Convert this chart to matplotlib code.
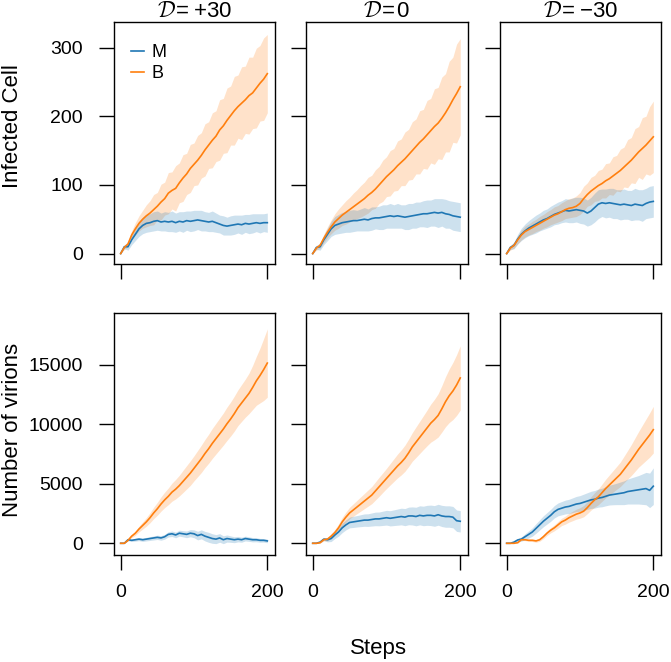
import numpy as np
import matplotlib
matplotlib.use("Agg")
import matplotlib.pyplot as plt

plt.rcParams['font.family'] = ['Liberation Sans', 'DejaVu Sans']
plt.rcParams['mathtext.fontset'] = 'custom'
plt.rcParams['mathtext.rm'] = 'DejaVu Sans'
plt.rcParams['mathtext.cal'] = 'cmsy10'

steps = list(range(0, 201, 5))

titles = ['$\\mathcal{D}$\u200a=\u2009+30', '$\\mathcal{D}$\u200a=\u200a0', '$\\mathcal{D}$\u200a=\u2009\u221230']
row_labels = ['Infected Cell', 'Number of virions']
series_names = ['M', 'B']
x_ticks = [0, 200]
y_ticks_top = [0, 100, 200, 300]
y_ticks_bottom = [0, 5000, 10000, 15000]

inf_p30_M = [0, 10, 10, 20, 28, 36, 41, 44, 45, 47, 48, 46, 47, 46, 47, 45, 47, 46, 48, 47, 48,
             49, 48, 47, 46, 47, 45, 43, 41, 40, 41, 42, 43, 42, 44, 43, 44, 45, 44, 45, 45]
inf_p30_M_sd = [0, 3, 5, 7, 9, 11, 12, 13, 13, 14, 14, 13, 14, 14, 15, 14, 14, 15, 14, 15, 15,
                14, 15, 14, 14, 15, 14, 13, 14, 13, 14, 14, 13, 14, 13, 14, 14, 13, 14, 13, 14]
inf_p30_B = [0, 9, 14, 27, 36, 44, 50, 55, 59, 64, 69, 75, 80, 88, 92, 95, 103, 110, 116, 124, 130,
             136, 143, 151, 158, 165, 171, 180, 186, 194, 201, 208, 214, 219, 224, 230, 234, 241, 248, 254, 262]
inf_p30_B_sd = [0, 3, 4, 6, 9, 11, 13, 16, 18, 22, 20, 26, 24, 30, 27, 33, 29, 34, 30, 35, 31,
                36, 33, 38, 34, 40, 37, 44, 40, 47, 43, 50, 46, 53, 49, 56, 52, 58, 55, 60, 57]

inf_0_M = [0, 9, 10, 20, 28, 36, 41, 43, 45, 46, 47, 48, 48, 49, 50, 49, 51, 52, 52, 53, 54,
           55, 54, 55, 54, 53, 54, 55, 56, 57, 58, 58, 59, 60, 59, 60, 58, 57, 55, 54, 53]
inf_0_M_sd = [0, 3, 5, 7, 9, 11, 13, 14, 15, 15, 16, 16, 15, 16, 17, 16, 17, 16, 17, 18, 17,
              18, 17, 18, 17, 18, 19, 18, 19, 18, 19, 20, 19, 20, 21, 20, 21, 20, 21, 21, 21]
inf_0_B = [0, 8, 12, 22, 31, 39, 46, 51, 56, 60, 64, 68, 72, 76, 80, 85, 89, 94, 100, 106, 112,
           117, 122, 128, 133, 138, 144, 150, 156, 162, 167, 173, 179, 185, 190, 197, 205, 214, 224, 233, 243]
inf_0_B_sd = [0, 3, 4, 6, 8, 10, 12, 14, 15, 17, 18, 20, 21, 23, 24, 26, 25, 28, 27, 30, 29,
              33, 31, 36, 34, 39, 37, 42, 40, 46, 43, 50, 47, 55, 52, 60, 57, 66, 62, 72, 70]

inf_m30_M = [0, 9, 12, 21, 28, 33, 37, 40, 43, 46, 49, 51, 54, 57, 59, 61, 63, 62, 63, 64, 63,
             62, 59, 62, 67, 72, 74, 73, 74, 73, 72, 71, 72, 71, 70, 72, 71, 70, 73, 75, 76]
inf_m30_M_sd = [0, 3, 5, 7, 9, 10, 11, 12, 13, 13, 14, 14, 15, 15, 16, 16, 17, 17, 18, 18, 19,
                19, 19, 20, 21, 21, 20, 21, 21, 22, 21, 22, 22, 21, 22, 23, 22, 23, 22, 23, 23]
inf_m30_B = [0, 8, 12, 20, 27, 32, 35, 38, 41, 44, 47, 50, 53, 56, 58, 61, 64, 66, 67, 69, 73,
             80, 86, 91, 95, 99, 102, 106, 109, 113, 117, 121, 126, 131, 136, 142, 148, 153, 158, 164, 170]
inf_m30_B_sd = [0, 3, 4, 6, 7, 8, 8, 9, 9, 10, 10, 11, 11, 12, 12, 13, 13, 14, 14, 15, 16,
                18, 17, 20, 19, 22, 21, 25, 23, 28, 26, 31, 29, 35, 33, 40, 37, 45, 42, 50, 52]

vir_p30_M = [0, 0, 300, 250, 300, 350, 300, 350, 400, 450, 500, 450, 550, 750, 800, 700, 850, 800, 750, 850, 800,
             650, 750, 600, 500, 400, 350, 450, 300, 400, 350, 300, 350, 300, 400, 350, 300, 300, 250, 250, 200]
vir_p30_M_sd = [0, 0, 80, 100, 120, 130, 140, 150, 160, 170, 180, 190, 200, 220, 230, 240, 250, 260, 280, 300, 330,
                360, 380, 400, 420, 400, 380, 360, 330, 300, 270, 250, 230, 210, 200, 190, 180, 170, 160, 150, 150]
vir_p30_B = [0, 0, 250, 600, 850, 1200, 1500, 1800, 2150, 2550, 2900, 3300, 3650, 3950, 4300, 4550, 4850, 5200, 5550, 5900, 6300,
             6700, 7100, 7550, 7950, 8400, 8800, 9200, 9600, 10050, 10450, 10900, 11400, 11800, 12200, 12600, 13100, 13650, 14100, 14600, 15150]
vir_p30_B_sd = [0, 0, 60, 120, 180, 240, 300, 360, 420, 480, 540, 600, 650, 700, 760, 820, 870, 930, 980, 1030, 1050,
                1100, 1150, 1180, 1220, 1260, 1290, 1320, 1350, 1400, 1430, 1470, 1500, 1550, 1600, 1700, 1850, 2050, 2300, 2600, 2870]

vir_0_M = [0, 0, 100, 350, 300, 400, 700, 950, 1300, 1550, 1750, 1800, 1850, 1900, 1950, 1950, 2000, 2050, 2050, 2100, 2150,
           2100, 2150, 2200, 2250, 2200, 2300, 2300, 2250, 2350, 2300, 2350, 2350, 2300, 2400, 2300, 2250, 2250, 2200, 1900, 1850]
vir_0_M_sd = [0, 0, 60, 120, 180, 250, 300, 350, 400, 420, 450, 470, 480, 500, 520, 530, 550, 570, 580, 600, 620,
              640, 660, 680, 700, 720, 740, 760, 780, 800, 820, 840, 860, 870, 880, 890, 900, 900, 900, 900, 900]
vir_0_B = [0, 0, 50, 300, 350, 600, 900, 1300, 1800, 2200, 2550, 2800, 3050, 3300, 3550, 3800, 4050, 4400, 4750, 5100, 5450,
           5800, 6150, 6500, 6800, 7150, 7600, 8100, 8500, 8900, 9300, 9700, 10100, 10400, 10750, 11300, 11900, 12400, 12800, 13300, 13900]
vir_0_B_sd = [0, 0, 40, 100, 150, 200, 260, 320, 380, 430, 480, 520, 560, 600, 640, 680, 720, 760, 800, 820, 850,
              900, 950, 1000, 1050, 1100, 1150, 1200, 1280, 1350, 1420, 1500, 1600, 1700, 1820, 1950, 2100, 2250, 2400, 2550, 2700]

vir_m30_M = [0, 0, 100, 280, 350, 550, 750, 950, 1250, 1550, 1850, 2100, 2350, 2650, 2850, 2950, 3050, 3100, 3200, 3300, 3350,
             3450, 3550, 3650, 3700, 3800, 3850, 3950, 4050, 4100, 4150, 4200, 4250, 4350, 4400, 4450, 4500, 4550, 4600, 4450, 4800]
vir_m30_M_sd = [0, 0, 60, 120, 180, 250, 300, 350, 400, 430, 460, 480, 500, 520, 540, 560, 580, 600, 620, 640, 660,
                680, 700, 720, 740, 760, 780, 800, 830, 860, 900, 950, 1000, 1050, 1100, 1150, 1200, 1280, 1360, 1450, 1540]
vir_m30_B = [0, 0, 0, 50, 300, 300, 250, 250, 200, 300, 550, 850, 1100, 1300, 1550, 1800, 1950, 2150, 2300, 2450, 2550,
             2700, 3000, 3350, 3650, 3900, 4250, 4600, 4900, 5200, 5500, 5800, 6200, 6600, 7000, 7450, 7900, 8300, 8700, 9100, 9550]
vir_m30_B_sd = [0, 0, 0, 30, 60, 80, 90, 100, 110, 130, 160, 190, 220, 250, 280, 310, 340, 370, 400, 420, 440,
                470, 510, 560, 610, 660, 720, 780, 840, 900, 960, 1030, 1110, 1200, 1300, 1400, 1500, 1620, 1740, 1860, 1960]

panels = [
    [(inf_p30_M, inf_p30_M_sd, inf_p30_B, inf_p30_B_sd),
     (inf_0_M, inf_0_M_sd, inf_0_B, inf_0_B_sd),
     (inf_m30_M, inf_m30_M_sd, inf_m30_B, inf_m30_B_sd)],
    [(vir_p30_M, vir_p30_M_sd, vir_p30_B, vir_p30_B_sd),
     (vir_0_M, vir_0_M_sd, vir_0_B, vir_0_B_sd),
     (vir_m30_M, vir_m30_M_sd, vir_m30_B, vir_m30_B_sd)],
]

col_M = '#1f77b4'
col_B = '#ff7f0e'

W, H = 671, 662
fig = plt.figure(figsize=(W / 100, H / 100), dpi=100)

col_x = [(114, 275), (306, 468), (500, 661)]
row_y = [(22.3, 264.3), (312.7, 555.3)]
ylims = [(-15.6, 336.8), (-1009, 19384)]
yticks = [y_ticks_top, y_ticks_bottom]

for r in range(2):
    for c in range(3):
        x0, x1 = col_x[c]
        y0, y1 = row_y[r]
        ax = fig.add_axes([x0 / W, 1 - y1 / H, (x1 - x0) / W, (y1 - y0) / H])
        m, msd, b, bsd = panels[r][c]
        xs = np.array(steps)
        m = np.array(m, float); msd = np.array(msd, float)
        b = np.array(b, float); bsd = np.array(bsd, float)
        ax.fill_between(xs, b - bsd, b + bsd, color=col_B, alpha=0.22, lw=0)
        ax.fill_between(xs, m - msd, m + msd, color=col_M, alpha=0.22, lw=0)
        ax.plot(xs, m, color=col_M, lw=1.2, label=series_names[0])
        ax.plot(xs, b, color=col_B, lw=1.2, label=series_names[1])
        ax.set_xlim(-9.1, 210.5)
        ax.set_ylim(*ylims[r])
        ax.set_xticks(x_ticks)
        ax.set_yticks(yticks[r])
        ax.tick_params(direction='out', length=10.5, width=1.0, labelsize=14)
        ax.tick_params(axis='x', pad=10)
        ax.tick_params(axis='y', pad=12)
        if r == 0:
            ax.set_xticklabels([])
            ax.set_title(titles[c], fontsize=16, pad=3.6)
        if c != 0:
            ax.set_yticklabels([])
        for s in ax.spines.values():
            s.set_linewidth(1.0)
        if r == 0 and c == 0:
            ax.legend(loc='upper left', bbox_to_anchor=(0.1075, 0.9085), frameon=False,
                      fontsize=13, handlelength=0.72, handletextpad=0.42,
                      labelspacing=0.2, borderpad=0, borderaxespad=0)

fig.text(18.3 / W, 1 - 126.5 / H, row_labels[0], rotation=90, rotation_mode='anchor',
         ha='center', va='baseline', fontsize=16)
fig.text(18.3 / W, 1 - 430 / H, row_labels[1], rotation=90, rotation_mode='anchor',
         ha='center', va='baseline', fontsize=16)
fig.text(378 / W, 1 - 654 / H, 'Steps', ha='center', va='baseline', fontsize=16)

fig.savefig('out.png', dpi=100)
